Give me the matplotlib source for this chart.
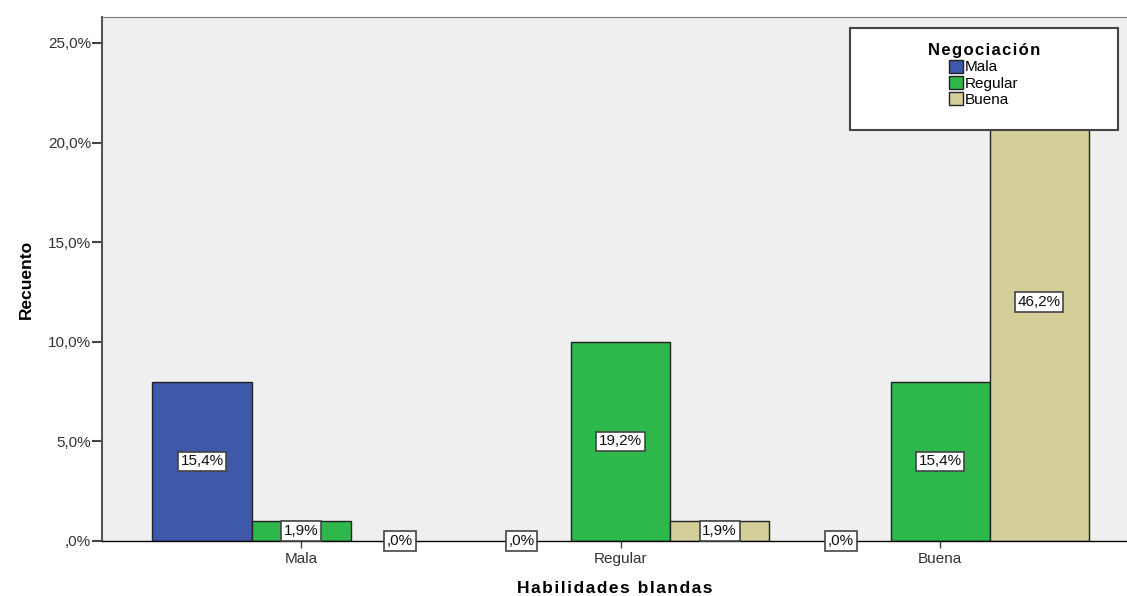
import numpy as np
import matplotlib.pyplot as plt
from matplotlib.patches import Rectangle

plt.rcParams['font.family'] = ['Liberation Sans', 'DejaVu Sans']

# -------------------------------------------------
# Data (recuento por grupo)
# -------------------------------------------------
grupos = ['Mala', 'Regular', 'Buena']          # Habilidades blandas
series = ['Mala', 'Regular', 'Buena']          # Negociación
recuento = {
    'Mala':    [8, 0, 0],
    'Regular': [1, 10, 8],
    'Buena':   [0, 1, 24],
}
etiquetas = {
    'Mala':    ['15,4%', ',0%', ',0%'],
    'Regular': ['1,9%', '19,2%', '15,4%'],
    'Buena':   [',0%', '1,9%', '46,2%'],
}
y_ticks = [0, 5, 10, 15, 20, 25]
y_ticklabels = [',0%', '5,0%', '10,0%', '15,0%', '20,0%', '25,0%']

colores = {'Mala': '#3d57a9', 'Regular': '#2eb84b', 'Buena': '#d4cf99'}


def espaciado(txt):
    # SPSS dibuja los titulos con letras separadas
    return '\u200a'.join(txt)


# -------------------------------------------------
# Plot
# -------------------------------------------------
fig = plt.figure(figsize=(11.27, 5.96), dpi=100)
ax = fig.add_axes([102/1127, 1 - 541/596, 1 - 102/1127, (541 - 17)/596])
ax.set_facecolor('#efefef')

x = np.arange(len(grupos))
w = 0.31
offsets = [-w, 0, w]

for s, off in zip(series, offsets):
    vals = recuento[s]
    lws = [1.0 if v > 0 else 0 for v in vals]
    ax.bar(x + off, vals, width=w, color=colores[s], edgecolor='#222222',
           linewidth=lws, zorder=2)
    for xi, v, lab in zip(x + off, vals, etiquetas[s]):
        ax.text(xi, v / 2, lab, ha='center', va='center', fontsize=11,
                color='#111111', zorder=4,
                bbox=dict(boxstyle='square,pad=0.18', fc='white',
                          ec='#444444', lw=1.2))

ax.set_xlim(-0.623, 2.585)
ax.set_ylim(0, 26.3)

ax.set_yticks(y_ticks)
ax.set_yticklabels(y_ticklabels, fontsize=11, color='#333333')
ax.set_xticks(x)
ax.set_xticklabels(grupos, fontsize=11, color='#333333')
ax.tick_params(axis='y', length=7, width=1.5, color='#444444', pad=1)
ax.tick_params(axis='x', length=5, width=1.0, color='#444444', pad=3)

ax.spines['right'].set_visible(False)
ax.spines['top'].set_color('#777777')
ax.spines['left'].set_color('#555555')
ax.spines['left'].set_linewidth(1.5)
ax.spines['bottom'].set_color('#000000')
ax.spines['bottom'].set_linewidth(1.0)
ax.spines['bottom'].set_zorder(3)

ax.set_ylabel('Recuento', fontsize=12.5, fontweight='bold', labelpad=10)
ax.set_xlabel(espaciado('Habilidades blandas'), fontsize=12.5,
              fontweight='bold', labelpad=11)

# Legend box (drawn manually, entries centered)
lx0 = (850 - 102) / 1025
lx1 = (1118 - 102) / 1025
ly0 = (541 - 130) / 524
ly1 = (541 - 28) / 524
ax.add_patch(Rectangle((lx0, ly0), lx1 - lx0, ly1 - ly0, transform=ax.transAxes,
                       fc='white', ec='#444444', lw=1.5, zorder=5))

handles = [Rectangle((0, 0), 1, 1, fc=colores[s], ec='#222222', lw=1.0)
           for s in series]
leg = ax.legend(handles, series, loc='upper center',
                bbox_to_anchor=((lx0 + lx1) / 2, ly1 - 0.003),
                frameon=False, fontsize=11, title=espaciado('Negociación'),
                handlelength=0.9, handleheight=0.9, handletextpad=0.15,
                labelspacing=0.1, borderpad=0.4)
leg.get_title().set_fontweight('bold')
leg.get_title().set_fontsize(12)
leg.set_zorder(6)

fig.savefig('out.png', dpi=100)
